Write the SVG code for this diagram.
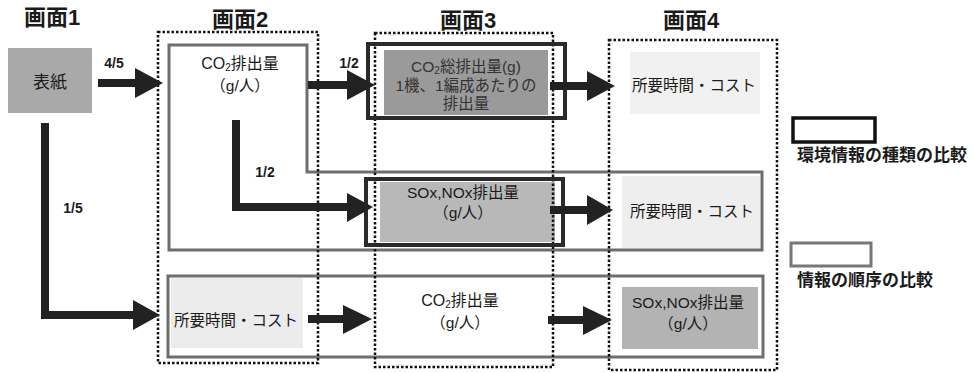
<svg xmlns="http://www.w3.org/2000/svg" width="977" height="373" viewBox="0 0 977 373">
<defs>
<style>
text{font-family:"Liberation Sans","Noto Sans CJK JP",sans-serif;fill:#1a1a1a;text-anchor:middle;dominant-baseline:central}
.title{font-size:22px;font-weight:bold}
.lbl{font-size:14px;font-weight:bold}
.t{font-size:15.5px}
.leg{font-size:17px;font-weight:bold;text-anchor:start}
.dot{fill:none;stroke:#111;stroke-width:2.5;stroke-dasharray:2.5 2}
.gray{fill:none;stroke:#6e6e6e;stroke-width:3}
.dark{fill:none;stroke:#2a2a2a;stroke-width:4}
.shaft{fill:none;stroke:#222;stroke-width:8}
.head{fill:#222}
</style>
</defs>
<rect width="977" height="373" fill="#fff"/>

<g id="titles">
<text class="title" x="52" y="17">画面1</text>
<text class="title" x="240" y="19">画面2</text>
<text class="title" x="468" y="20">画面3</text>
<text class="title" x="691" y="20">画面4</text>
</g>

<g id="fills">
<rect x="8" y="48" width="84" height="65" fill="#a9a9a9"/>
<rect x="384" y="50" width="164" height="65" fill="#9a9a9a"/>
<rect x="630" y="52" width="130" height="62" fill="#f1f1f1"/>
<rect x="380" y="182" width="175" height="60" fill="#b8b8b8"/>
<rect x="622" y="176" width="138" height="72" fill="#eeeeee"/>
<rect x="171" y="278" width="132" height="70" fill="#ececec"/>
<rect x="622" y="287" width="136" height="62" fill="#b3b3b3"/>
</g>

<g id="order-frames">
<path class="gray" d="M169,45 H307 V172 H762 V250 H169 Z"/>
<rect class="gray" x="168" y="276" width="595" height="81"/>
</g>

<g id="screens">
<rect class="dot" x="158" y="32" width="160" height="331"/>
<rect class="dot" x="375" y="33" width="178" height="334"/>
<rect class="dot" x="609" y="40" width="168" height="330"/>
</g>

<g id="node-cover">
<text x="50" y="82" style="font-size:17px">表紙</text>
</g>

<g id="node-s2-co2">
<text class="t" x="240" y="63" style="font-size:16px">CO<tspan dy="4" style="font-size:10px">2</tspan><tspan dy="-4">排出量</tspan></text>
<text class="t" x="240" y="85">（g/人）</text>
</g>

<g id="node-s3-co2total">
<rect class="dark" x="368" y="44" width="197" height="74"/>
<text class="t" x="466" y="66" style="fill:#333">CO<tspan dy="4" style="font-size:10px">2</tspan><tspan dy="-4">総排出量(g)</tspan></text>
<text class="t" x="466" y="85" style="fill:#333">1機、1編成あたりの</text>
<text class="t" x="466" y="103" style="fill:#333">排出量</text>
</g>

<g id="node-s4-time1">
<text class="t" x="694" y="85">所要時間・コスト</text>
</g>

<g id="node-s3-sox">
<rect class="dark" x="366" y="179" width="197" height="66"/>
<text class="t" x="463" y="192">SOx,NOx排出量</text>
<text class="t" x="463" y="212">（g/人）</text>
</g>

<g id="node-s4-time2">
<text class="t" x="692" y="211">所要時間・コスト</text>
</g>

<g id="node-s2-time">
<text class="t" x="236" y="320">所要時間・コスト</text>
</g>

<g id="node-s3-co2">
<text class="t" x="460" y="300" style="font-size:16px">CO<tspan dy="4" style="font-size:10px">2</tspan><tspan dy="-4">排出量</tspan></text>
<text class="t" x="460" y="322">（g/人）</text>
</g>

<g id="node-s4-sox">
<text class="t" x="688" y="302">SOx,NOx排出量</text>
<text class="t" x="688" y="323">（g/人）</text>
</g>

<g id="connectors">
<line class="shaft" x1="98" y1="83" x2="137" y2="83"/>
<polygon class="head" points="135,68 163,83 135,98"/>
<text class="lbl" x="114" y="63">4/5</text>
<line class="shaft" x1="308" y1="85" x2="349" y2="85"/>
<polygon class="head" points="347,70 375,85 347,100"/>
<text class="lbl" x="349" y="63">1/2</text>
<line class="shaft" x1="550" y1="86" x2="589" y2="86"/>
<polygon class="head" points="587,71 615,86 587,101"/>
<path class="shaft" d="M236,120 V207 H349"/>
<polygon class="head" points="347,193 373,207 347,222"/>
<text class="lbl" x="265" y="172">1/2</text>
<line class="shaft" x1="550" y1="210" x2="589" y2="210"/>
<polygon class="head" points="587,195 613,210 587,225"/>
<path class="shaft" d="M45,123 V315 H135"/>
<polygon class="head" points="133,300 160,315 133,330"/>
<text class="lbl" x="73" y="208">1/5</text>
<line class="shaft" x1="308" y1="319" x2="345" y2="319"/>
<polygon class="head" points="343,305 372,319 343,334"/>
<line class="shaft" x1="548" y1="320" x2="585" y2="320"/>
<polygon class="head" points="583,306 612,320 583,335"/>
</g>

<g id="legend">
<rect x="793" y="118" width="82" height="24" fill="#fff" stroke="#111" stroke-width="3.5"/>
<text class="leg" x="797" y="155">環境情報の種類の比較</text>
<rect x="791" y="243" width="80" height="23" fill="#fff" stroke="#777" stroke-width="3"/>
<text class="leg" x="797" y="280">情報の順序の比較</text>
</g>
</svg>
